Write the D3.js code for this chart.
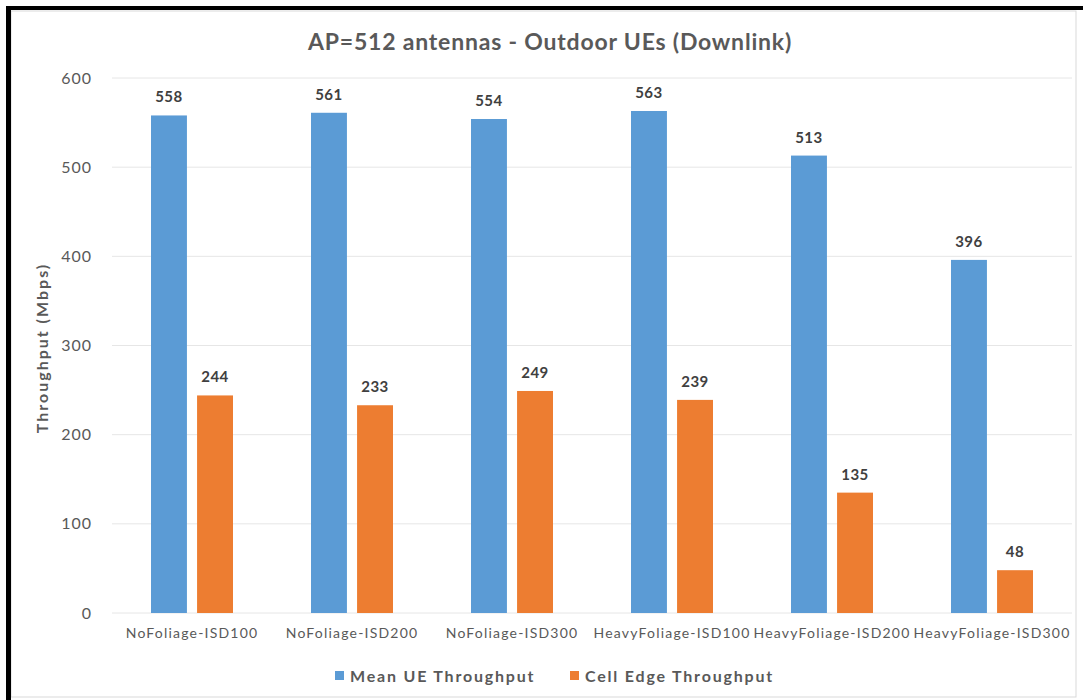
<!DOCTYPE html>
<html>
<head>
<meta charset="utf-8">
<script src="https://cdn.jsdelivr.net/npm/d3@7"></script>
<style>
  body { margin: 0; background: #fff; }
  svg { display: block; font-family: Lato, "Open Sans", sans-serif; }
</style>
</head>
<body>
<svg id="chart"></svg>
<script>
let categories = ["NoFoliage-ISD100", "NoFoliage-ISD200", "NoFoliage-ISD300",
    "HeavyFoliage-ISD100", "HeavyFoliage-ISD200", "HeavyFoliage-ISD300"];
let seriesNames = ["Mean UE Throughput", "Cell Edge Throughput"];
let meanUE = [558, 561, 554, 563, 513, 396];
let cellEdge = [244, 233, 249, 239, 135, 48];
let yTicks = [0, 100, 200, 300, 400, 500, 600];
let colors = ["#5b9bd5", "#ed7d31"];

let width = 1083;
let height = 700;

let svg = d3.select("#chart")
    .attr("width", width)
    .attr("height", height);

// frame: light chart border plus the black cropped edge top/left
svg.append("rect")
    .attr("x", 11).attr("y", 11)
    .attr("width", 1065).attr("height", 686)
    .attr("fill", "#fff")
    .attr("stroke", "#d9d9d9");
svg.append("rect").attr("x", 6).attr("y", 6).attr("width", width - 6).attr("height", 4).attr("fill", "#000");
svg.append("rect").attr("x", 6).attr("y", 6).attr("width", 5).attr("height", height - 6).attr("fill", "#000");

let rows = categories.map((c, i) => ({cat: c, vals: [meanUE[i], cellEdge[i]]}));

let scaleY = d3.scaleLinear()
    .domain([0, 600])
    .range([613, 78]);

let scaleX = d3.scaleBand()
    .domain(categories)
    .range([112, 1072])
    .paddingInner(0.4875)
    .paddingOuter(0.24375);

let scaleX1 = d3.scaleBand()
    .domain([0, 1])
    .range([0, scaleX.bandwidth()])
    .paddingInner(0.22);

// gridlines
svg.append("g")
    .selectAll("line")
    .data(yTicks)
    .enter()
    .append("line")
    .attr("x1", 112).attr("x2", 1072)
    .attr("y1", d => scaleY(d)).attr("y2", d => scaleY(d))
    .attr("stroke", "#e6e6e6")
    .attr("stroke-width", 1);

// y axis labels
let axisY = d3.axisLeft(scaleY).tickValues(yTicks).tickSize(0).tickPadding(0);
let gY = svg.append("g")
    .attr("transform", "translate(92,0)")
    .call(axisY);
gY.select(".domain").remove();
gY.selectAll("text")
    .attr("font-family", "Lato, sans-serif")
    .attr("font-size", 16)
    .attr("letter-spacing", 1)
    .attr("fill", "#595959");

// x axis labels
let axisX = d3.axisBottom(scaleX).tickSize(0).tickPadding(0);
let gX = svg.append("g")
    .attr("transform", "translate(0,628)")
    .call(axisX);
gX.select(".domain").remove();
gX.selectAll("text")
    .attr("font-family", "Lato, sans-serif")
    .attr("font-size", 14)
    .attr("letter-spacing", 1.2)
    .attr("fill", "#595959");

// bars
let groups = svg.selectAll(".grp")
    .data(rows)
    .enter()
    .append("g")
    .attr("transform", d => `translate(${scaleX(d.cat)},0)`);

groups.selectAll("rect")
    .data(d => d.vals.map((v, k) => ({k: k, v: v})))
    .enter()
    .append("rect")
    .attr("x", d => scaleX1(d.k))
    .attr("width", scaleX1.bandwidth())
    .attr("y", d => scaleY(d.v))
    .attr("height", d => scaleY(0) - scaleY(d.v))
    .attr("fill", d => colors[d.k]);

groups.selectAll("text")
    .data(d => d.vals.map((v, k) => ({k: k, v: v})))
    .enter()
    .append("text")
    .attr("x", d => scaleX1(d.k) + scaleX1.bandwidth() / 2)
    .attr("y", d => scaleY(d.v) - 13)
    .attr("text-anchor", "middle")
    .attr("font-size", 15)
    .attr("font-weight", "bold")
    .attr("letter-spacing", 0.5)
    .attr("fill", "#404040")
    .text(d => d.v);

// title
svg.append("text")
    .attr("x", 550).attr("y", 50)
    .attr("text-anchor", "middle")
    .attr("font-size", 23)
    .attr("font-weight", "bold")
    .attr("letter-spacing", 0.8)
    .attr("fill", "#595959")
    .text("AP=512 antennas - Outdoor UEs (Downlink)");

// y title
svg.append("text")
    .attr("transform", "translate(48,348) rotate(-90)")
    .attr("text-anchor", "middle")
    .attr("font-size", 16)
    .attr("font-weight", "bold")
    .attr("letter-spacing", 2)
    .attr("fill", "#595959")
    .text("Throughput (Mbps)");

// legend
let legendX = [335, 570];
let legend = svg.selectAll(".leg")
    .data(seriesNames)
    .enter()
    .append("g")
    .attr("transform", (d, i) => `translate(${legendX[i]},676)`);
legend.append("rect")
    .attr("x", 0).attr("y", -5)
    .attr("width", 9).attr("height", 9)
    .attr("fill", (d, i) => colors[i]);
legend.append("text")
    .attr("x", 15).attr("y", 6)
    .attr("font-size", 16)
    .attr("font-weight", "bold")
    .attr("letter-spacing", 1.8)
    .attr("fill", "#595959")
    .text(d => d);
</script>
</body>
</html>
